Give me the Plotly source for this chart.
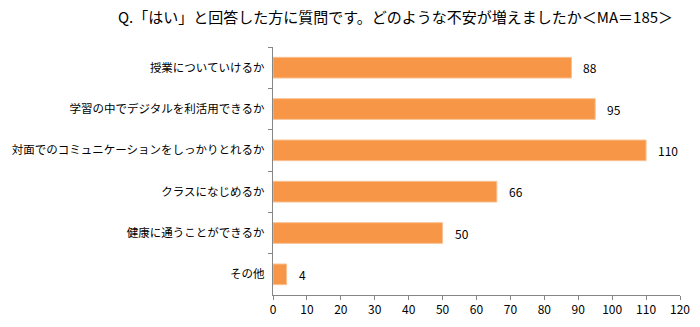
import plotly.graph_objects as go

# Survey responses (multiple answer, n=185)
categories = [
    "授業についていけるか",
    "学習の中でデジタルを利活用できるか",
    "対面でのコミュニケーションをしっかりとれるか",
    "クラスになじめるか",
    "健康に通うことができるか",
    "その他",
]
counts = [88, 95, 110, 66, 50, 4]
title_text = "Q.「はい」と回答した方に質問です。どのような不安が増えましたか＜MA＝185＞"

FONT = "Noto Sans CJK JP"
BAR_COLOR = "#F79646"

fig = go.Figure(
    go.Bar(
        x=counts,
        y=categories,
        orientation="h",
        marker=dict(color=BAR_COLOR, line=dict(color="#FAC090", width=1)),
        width=0.5,
        hoverinfo="x+y",
    )
)

# value labels to the right of each bar
for cat, val in zip(categories, counts):
    fig.add_annotation(
        x=val, y=cat, text=str(val), showarrow=False,
        xanchor="left", xshift=10, font=dict(family=FONT, size=12, color="#000"),
    )

fig.update_layout(
    width=700, height=327,
    margin=dict(l=273, r=20, t=47, b=32),
    paper_bgcolor="white", plot_bgcolor="white",
    font=dict(family=FONT, size=12, color="#000"),
    showlegend=False,
    title=dict(text=title_text, x=0.565, xanchor="center", y=0.945, yanchor="middle",
               font=dict(family=FONT, size=15, color="#000")),
    xaxis=dict(
        range=[0, 120], dtick=10, tick0=0, showgrid=False, zeroline=False,
        showline=True, linecolor="#868686", linewidth=1,
        ticks="outside", ticklen=4, tickcolor="#868686",
        tickfont=dict(family=FONT, size=12, color="#000"),
        automargin=False,
    ),
    yaxis=dict(
        type="category", autorange="reversed", showgrid=False,
        showline=True, linecolor="#868686", linewidth=1,
        ticks="outside", ticklen=4, tickcolor="#868686", tickson="boundaries",
        tickfont=dict(family=FONT, size=11.5, color="#000"),
        ticksuffix="  ", automargin=False,
    ),
)

fig.write_html("out.html")
